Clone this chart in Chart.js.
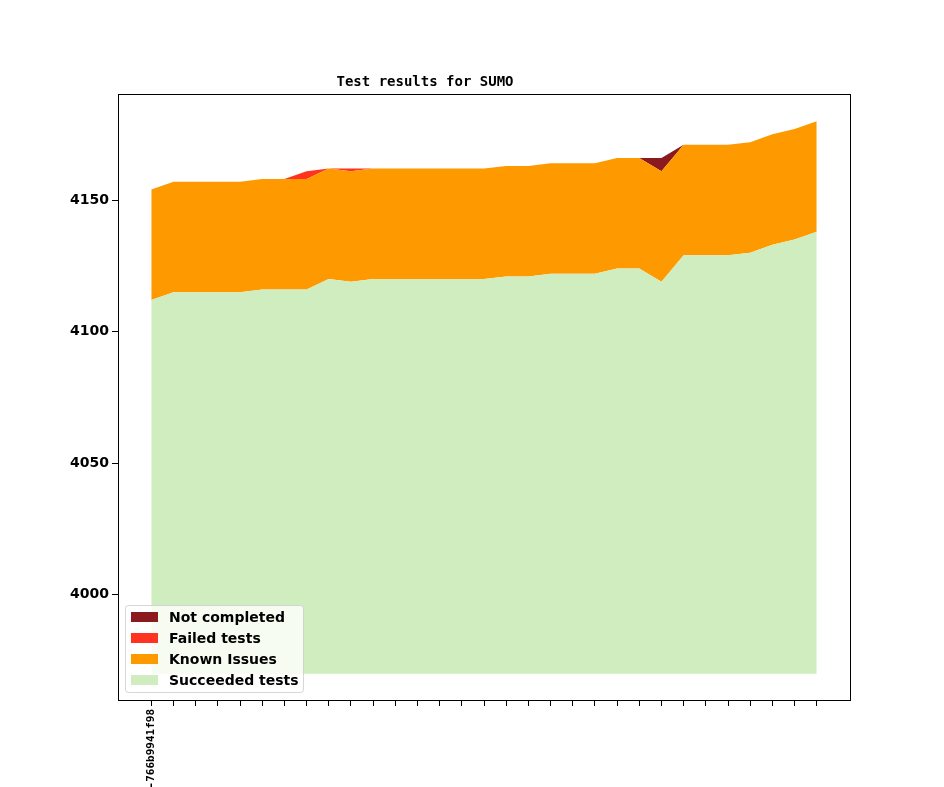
<!DOCTYPE html>
<html>
<head>
<meta charset="utf-8">
<script src="https://cdn.jsdelivr.net/npm/chart.js@4.4.0/dist/chart.umd.min.js"></script>
<style>
    html, body { margin: 0; padding: 0; background: #fff; }
    #wrap { width: 944px; height: 787px; }
</style>
</head>
<body>
<div id="wrap"><canvas id="chart" width="944" height="787"></canvas></div>
<script>
// Builds (only the first one carries a label in the picture)
const buildLabels = ['-766b9941f98', '', '', '', '', '', '', '', '', '', '',
    '', '', '', '', '', '', '', '', '', '',
    '', '', '', '', '', '', '', '', '', ''];

// Test counts per build
const succeeded = [4112, 4115, 4115, 4115, 4115, 4116, 4116, 4116, 4120, 4119, 4120,
    4120, 4120, 4120, 4120, 4120, 4121, 4121, 4122, 4122, 4122,
    4124, 4124, 4119, 4129, 4129, 4129, 4130, 4133, 4135, 4138];
const knownIssues = [42, 42, 42, 42, 42, 42, 42, 42, 42, 42, 42,
    42, 42, 42, 42, 42, 42, 42, 42, 42, 42,
    42, 42, 42, 42, 42, 42, 42, 42, 42, 42];
const failed = [0, 0, 0, 0, 0, 0, 0, 3, 0, 1, 0,
    0, 0, 0, 0, 0, 0, 0, 0, 0, 0,
    0, 0, 0, 0, 0, 0, 0, 0, 0, 0];
const notCompleted = [0, 0, 0, 0, 0, 0, 0, 0, 0, 0, 0,
    0, 0, 0, 0, 0, 0, 0, 0, 0, 0,
    0, 0, 5, 0, 0, 0, 0, 0, 0, 0];

const baseline = 3970;
const yTicks = [4000, 4050, 4100, 4150];

// series listed bottom to top
const series = [
    { label: 'Succeeded tests', values: succeeded, color: '#cfedbf' },
    { label: 'Known Issues', values: knownIssues, color: '#fe9900' },
    { label: 'Failed tests', values: failed, color: '#fe3420' },
    { label: 'Not completed', values: notCompleted, color: '#8b1a1e' }
];

// stack them up by hand
let running = succeeded.map(() => 0);
const datasets = series.map((s, k) => {
    running = running.map((r, i) => r + s.values[i]);
    return {
        label: s.label,
        data: running.map((v, i) => ({ x: i, y: v })),
        backgroundColor: s.color,
        borderWidth: 0,
        pointRadius: 0,
        tension: 0,
        fill: k === 0 ? { value: baseline } : '-1'
    };
});

// Frame round the plot + matplotlib-like legend
const framePlugin = {
    id: 'frame',
    afterDraw(chart) {
        const ctx = chart.ctx;
        const a = chart.chartArea;
        ctx.save();
        ctx.strokeStyle = '#000';
        ctx.lineWidth = 1;
        ctx.strokeRect(Math.round(a.left) + 0.5, Math.round(a.top) + 0.5,
            Math.round(a.right - a.left), Math.round(a.bottom - a.top));

        // legend box
        const lx = 125.5, ly = 605.5, lw = 178, lh = 87;
        ctx.beginPath();
        ctx.roundRect(lx, ly, lw, lh, 3);
        ctx.fillStyle = 'rgba(255,255,255,0.8)';
        ctx.fill();
        ctx.strokeStyle = 'rgba(204,204,204,0.8)';
        ctx.stroke();

        ctx.font = 'bold 14px "DejaVu Sans"';
        ctx.textBaseline = 'middle';
        const items = series.slice().reverse();
        items.forEach((s, i) => {
            const cy = 617 + i * 21;
            ctx.fillStyle = s.color;
            ctx.fillRect(131, cy - 5, 27, 10);
            ctx.fillStyle = '#000';
            ctx.fillText(s.label, 169, cy + 1);
        });
        ctx.restore();
    }
};

const ctx = document.getElementById('chart').getContext('2d');
const chart = new Chart(ctx, {
    type: 'line',
    data: { datasets: datasets },
    options: {
        responsive: false,
        animation: false,
        layout: { padding: { top: 62, right: 94, bottom: 0, left: 0 } },
        plugins: {
            legend: { display: false },
            tooltip: { enabled: false },
            title: {
                display: true,
                text: 'Test results for SUMO',
                color: '#000',
                font: { family: '"DejaVu Sans Mono"', weight: 'bold', size: 14 },
                padding: { top: 12, bottom: 3 }
            }
        },
        scales: {
            x: {
                type: 'linear',
                min: -1.5,
                max: 31.5,
                afterBuildTicks: s => { s.ticks = buildLabels.map((_, i) => ({ value: i })); },
                afterFit: s => { s.height = 87; },
                ticks: {
                    autoSkip: false,
                    minRotation: 90,
                    maxRotation: 90,
                    padding: 3,
                    color: '#000',
                    font: { family: '"DejaVu Sans Mono"', weight: 'bold', size: 11 },
                    callback: v => buildLabels[v] || ''
                },
                grid: { display: true, drawOnChartArea: false, drawTicks: true, tickLength: 6, color: '#000' },
                border: { display: false }
            },
            y: {
                min: 3960,
                max: 4190.4,
                afterBuildTicks: s => { s.ticks = yTicks.map(v => ({ value: v })); },
                afterFit: s => { s.width = 118; },
                ticks: {
                    padding: 3,
                    color: '#000',
                    font: { family: '"DejaVu Sans"', weight: 'bold', size: 14 },
                    callback: v => String(v)
                },
                grid: { display: true, drawOnChartArea: false, drawTicks: true, tickLength: 6, color: '#000' },
                border: { display: false }
            }
        }
    },
    plugins: [framePlugin]
});
</script>
</body>
</html>
